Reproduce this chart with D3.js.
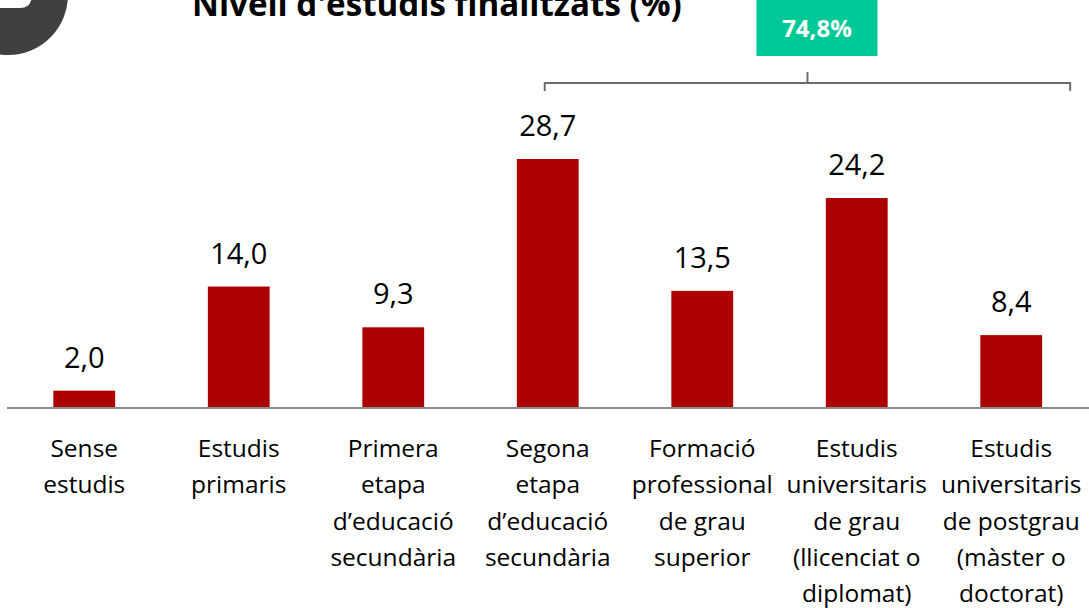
<!DOCTYPE html>
<html><head><meta charset="utf-8">
<script src="https://cdn.jsdelivr.net/npm/d3@7"></script>
<style>html,body{margin:0;padding:0;background:#fff;overflow:hidden}</style>
</head><body>
<svg id="c" width="1089" height="608"></svg>
<script>
const categories = [
  ["Sense","estudis"],
  ["Estudis","primaris"],
  ["Primera","etapa","d’educació","secundària"],
  ["Segona","etapa","d’educació","secundària"],
  ["Formació","professional","de grau","superior"],
  ["Estudis","universitaris","de grau","(llicenciat o","diplomat)"],
  ["Estudis","universitaris","de postgrau","(màster o","doctorat)"]
];
const values = [2.0, 14.0, 9.3, 28.7, 13.5, 24.2, 8.4];
const valueLabels = ["2,0","14,0","9,3","28,7","13,5","24,2","8,4"];
const title = "Nivell d'estudis finalitzats (%)";
const bracketLabel = "74,8%";
const bracketFrom = 3, bracketTo = 6;

const FONT = "'Open Sans', Lato, sans-serif";
const svg = d3.select("#c");
const ids = categories.map((d,i)=>i);
const x = d3.scaleBand().domain(ids).range([7, 1088.5]).paddingInner(0.6).paddingOuter(0.3);
const y = d3.scaleLinear().domain([0, 28.7]).range([408, 159]);

// icon circle (cut off)
svg.append("circle").attr("cx",8).attr("cy",-5).attr("r",60).attr("fill","#404040");
svg.append("path").attr("d","M-10,-20 L22,-20 Q32,-20 32,-6 Q32,8 20,8 L-10,8 Z").attr("fill","#fff");

// title (fitted to reference width)
const tt = svg.append("text").attr("x",192).attr("y",16)
  .attr("font-family",FONT).attr("font-weight","bold")
  .attr("font-size",30).attr("fill","#000").text(title);
const tw = tt.node().getComputedTextLength();
tt.attr("font-size", 30*490/tw);

// bars
svg.selectAll("rect.bar").data(values).join("rect").attr("class","bar")
  .attr("x",(d,i)=>x(i)).attr("width",x.bandwidth())
  .attr("y",d=>y(d)).attr("height",d=>y(0)-y(d)).attr("fill","#AD0000");

// axis baseline
svg.append("line").attr("x1",7).attr("x2",1089).attr("y1",y(0)).attr("y2",y(0))
  .attr("stroke","#8c8c8c").attr("stroke-width",2);

// value labels
svg.selectAll("text.val").data(values).join("text").attr("class","val")
  .attr("x",(d,i)=>x(i)+x.bandwidth()/2).attr("y",d=>y(d)-23)
  .attr("text-anchor","middle").attr("font-family",FONT)
  .attr("font-size",29).attr("fill","#000").text((d,i)=>valueLabels[i]);

// category labels
const cl = svg.selectAll("text.cat").data(categories).join("text").attr("class","cat")
  .attr("text-anchor","middle").attr("font-family",FONT)
  .attr("font-size",24.5).attr("fill","#000");
cl.each(function(lines,i){
  const t = d3.select(this);
  lines.forEach((ln,j)=>{
    t.append("tspan").attr("x",x(i)+x.bandwidth()/2).attr("y",457+j*36.3).text(ln);
  });
});

// bracket
const bx0 = x(bracketFrom)+x.bandwidth()/2-3;
const bx1 = x(bracketTo)+x.bandwidth()+28;
const bm = (bx0+bx1)/2;
svg.append("path")
  .attr("d",`M${bx0},91 L${bx0},83 L${bm},83 L${bm},72 M${bm},83 L${bx1},83 L${bx1},91`)
  .attr("fill","none").attr("stroke","#6d6d6d").attr("stroke-width",2);

// green box
svg.append("rect").attr("x",bm-51).attr("y",0).attr("width",121).attr("height",56).attr("fill","#00C896");
svg.append("text").attr("x",bm+9.5).attr("y",37).attr("text-anchor","middle")
  .attr("font-family",FONT).attr("font-weight","bold")
  .attr("font-size",24).attr("fill","#fff").text(bracketLabel);
</script>
</body></html>
